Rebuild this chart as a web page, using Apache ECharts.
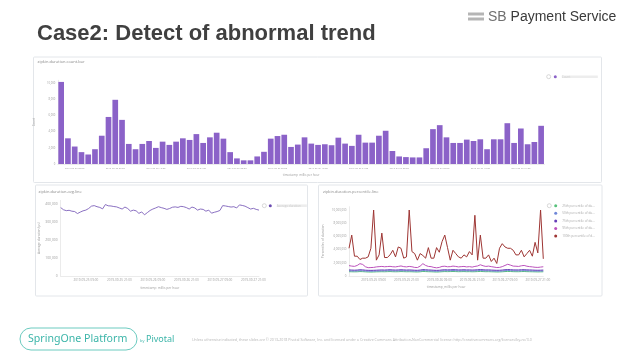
<!DOCTYPE html>
<html><head><meta charset="utf-8">
<script src="https://cdn.jsdelivr.net/npm/echarts@6/dist/echarts.min.js"></script>
<style>html,body{margin:0;padding:0;background:#fff}#c{width:638px;height:359px}</style>
</head><body><div id="c"></div>
<script>
// ---- data ----
const countValues = [
 10100,3160,2150,1460,1170,1820,3480,5790,7900,5430,2470,1820,
 2470,2830,1980,2750,2350,2750,3160,2960,3680,2590,3280,3850,
 3120,1460,690,450,450,930,1500,3120,3440,3600,2100,2390,
 3280,2510,2350,2430,2310,3240,2510,2230,3600,2630,2630,3480,
 4090,1600,930,850,810,810,1940,4290,4780,3280,2590,2590,
 3000,2830,3040,1820,3040,3040,5020,2590,4370,2430,2710,4700];
// average duration, thousands of microseconds
const avgK = [
 380,368,363,365,360,358,347,355,362,366,375,388,
 391,385,381,373,397,390,389,386,384,378,372,383,
 375,360,366,362,348,356,340,352,364,372,378,385,
 380,376,370,375,382,384,381,387,385,380,372,383,
 378,366,372,370,360,366,349,354,358,364,391,389,
 386,383,385,378,395,392,388,380,372,376,370,366];
// percentiles, millions of microseconds
const p25M = [
 0.65,0.64,0.63,0.64,0.67,0.66,0.63,0.61,0.60,0.61,0.63,0.64,
 0.65,0.64,0.66,0.67,0.65,0.64,0.65,0.67,0.66,0.64,0.65,0.64,
 0.62,0.61,0.64,0.69,0.67,0.65,0.64,0.62,0.60,0.62,0.65,0.67,
 0.66,0.67,0.68,0.67,0.65,0.66,0.67,0.65,0.66,0.64,0.65,0.67,
 0.69,0.67,0.65,0.66,0.64,0.63,0.61,0.62,0.64,0.67,0.69,0.68,
 0.66,0.65,0.65,0.67,0.68,0.66,0.65,0.64,0.63,0.62,0.63,0.64];
const p50M = [
 0.78,0.76,0.75,0.77,0.80,0.79,0.75,0.73,0.72,0.73,0.75,0.76,
 0.78,0.77,0.79,0.80,0.78,0.76,0.78,0.80,0.79,0.77,0.78,0.76,
 0.74,0.73,0.76,0.83,0.80,0.78,0.76,0.74,0.72,0.74,0.78,0.80,
 0.79,0.80,0.82,0.80,0.78,0.79,0.80,0.78,0.79,0.76,0.78,0.80,
 0.83,0.80,0.78,0.79,0.76,0.75,0.73,0.74,0.76,0.80,0.83,0.81,
 0.79,0.78,0.78,0.80,0.81,0.79,0.78,0.76,0.75,0.74,0.75,0.76];
const p75M = [
 0.92,0.90,0.88,0.90,0.95,0.93,0.88,0.86,0.85,0.86,0.88,0.90,
 0.92,0.90,0.93,0.95,0.92,0.90,0.92,0.95,0.93,0.90,0.92,0.90,
 0.87,0.86,0.90,0.98,0.95,0.92,0.90,0.87,0.85,0.87,0.92,0.95,
 0.93,0.94,0.96,0.95,0.92,0.93,0.95,0.92,0.93,0.90,0.92,0.95,
 0.98,0.95,0.92,0.93,0.90,0.88,0.86,0.87,0.90,0.95,0.98,0.96,
 0.93,0.92,0.92,0.95,0.96,0.93,0.92,0.90,0.88,0.87,0.88,0.90];
const p95M = [
 1.57,1.50,1.46,1.60,1.87,1.75,1.40,1.26,1.28,1.30,1.38,1.42,
 1.45,1.40,1.43,1.46,1.40,1.38,1.45,1.52,1.42,1.38,1.45,1.40,
 1.30,1.28,1.50,1.87,1.60,1.45,1.42,1.30,1.24,1.30,1.45,1.48,
 1.40,1.42,1.50,1.45,1.38,1.42,1.45,1.38,1.42,1.35,1.45,1.52,
 1.70,1.55,1.45,1.50,1.42,1.35,1.28,1.30,1.42,1.60,1.78,1.65,
 1.50,1.48,1.45,1.55,1.60,1.48,1.42,1.38,1.32,1.30,1.35,1.40];
const p100M = [
 4.2,6.2,3.0,3.0,2.5,2.7,2.7,2.9,4.2,10.0,2.4,3.2,
 6.5,2.8,2.8,3.2,3.9,2.9,4.4,4.2,2.7,2.9,10.0,3.7,
 3.4,2.4,3.4,3.1,2.7,4.3,2.7,2.7,4.3,3.6,5.2,6.2,
 4.3,2.4,3.9,3.4,2.9,2.7,3.2,2.9,3.7,3.2,9.2,2.4,
 6.2,2.7,2.7,3.2,2.2,2.7,1.9,4.2,4.9,4.4,4.2,4.2,
 3.9,3.2,3.2,3.9,2.9,3.4,3.9,3.0,5.1,3.5,10.0,2.6];
const pctNames = ['25th percentile of duration','50th percentile of duration','75th percentile of duration','95th percentile of duration','100th percentile of duration'];
const pctColors = ['#57c17b','#6f87d8','#663db8','#bc52bc','#9e3533'];

function hourCats(h0, n) {
  const out = [], p = x => String(x).padStart(2, '0');
  for (let i = 0; i < n; i++) {
    const d = new Date(Date.UTC(2019, 8, 25, h0 + i));
    out.push(d.getUTCFullYear() + '-' + p(d.getUTCMonth() + 1) + '-' + p(d.getUTCDate()) + ' ' + p(d.getUTCHours()) + ':00');
  }
  return out;
}
const countCats = hourCats(1, countValues.length);
const lineCats = hourCats(0, avgK.length);

const FONT = '"Open Sans", "Noto Sans", sans-serif';
const TICK = '#9c9c9c';
const AXL = { show: true, lineStyle: { color: '#dedede', width: 0.6 } };
const fmt = v => Math.round(v).toLocaleString('en-US');

const chart = echarts.init(document.getElementById('c'), null, { width: 638, height: 359 });

const panel = (x, y, w, h) => ({ type: 'rect', shape: { x, y, width: w, height: h, r: 1 }, style: { fill: '#fff', stroke: '#e3e6ea', lineWidth: 1 }, z: -10 });
const txt = (x, y, text, font, fill, extra) => ({ type: 'text', x, y, style: Object.assign({ text, font, fill, verticalAlign: 'middle' }, extra || {}) });
const ring = (x, y) => ({ type: 'circle', shape: { cx: x, cy: y, r: 2 }, style: { fill: '#fff', stroke: '#bdbdbd', lineWidth: 0.6 } });

chart.setOption({
  animation: false,
  backgroundColor: '#fff',
  textStyle: { fontFamily: FONT },
  graphic: [
    panel(33.5, 57, 568, 125.5),
    panel(35.5, 185, 272, 111),
    panel(318.5, 185, 283.5, 111),
    txt(37, 33.5, 'Case2: Detect of abnormal trend', 'bold 22px "Liberation Sans", Arial, sans-serif', '#404040'),
    { type: 'rect', shape: { x: 468, y: 12.5, width: 16, height: 3 }, style: { fill: '#b5b5b5' } },
    { type: 'rect', shape: { x: 468, y: 17.5, width: 16, height: 3 }, style: { fill: '#b5b5b5' } },
    { type: 'text', x: 488, y: 17.5, style: { text: '{a|SB }{b|Payment Service}', verticalAlign: 'middle',
      rich: { a: { font: '14px "Liberation Sans", Arial, sans-serif', fill: '#707070' }, b: { font: '14px "Liberation Sans", Arial, sans-serif', fill: '#3a3a3a' } } } },
    txt(37.5, 61.5, 'zipkin.duration.count.bar', '4px ' + FONT, '#8a8a8a'),
    txt(38.5, 191.5, 'zipkin.duration.avg.line', '4px ' + FONT, '#8a8a8a'),
    txt(323, 191.5, 'zipkin.duration.percentile.line', '4px ' + FONT, '#8a8a8a'),
    ring(548.7, 76.7),
    ring(264.3, 205.7),
    ring(549.3, 205.7),
    { type: 'rect', shape: { x: 20, y: 328, width: 117, height: 22, r: 11 }, style: { fill: 'none', stroke: '#6ccbc0', lineWidth: 1 } },
    txt(28, 339, 'SpringOne Platform', '10.6px "Noto Sans", "Open Sans", sans-serif', '#3cb5a9'),
    txt(140, 340.5, 'by', '4px ' + FONT, '#3cb5a9'),
    txt(146, 339.5, 'Pivotal', '9px "Noto Sans", "Open Sans", sans-serif', '#3cb5a9'),
    txt(192, 339.5, 'Unless otherwise indicated, these slides are \u00a9 2013-2018 Pivotal Software, Inc. and licensed under a Creative Commons Attribution-NonCommercial license: http://creativecommons.org/licenses/by-nc/3.0', '3.6px ' + FONT, '#b5b5b5')
  ],
  legend: [
    { data: ['Count'], left: 553.8, top: 75.2, itemWidth: 3, itemHeight: 3, icon: 'circle', padding: 0,
      textStyle: { fontSize: 3, color: '#cfcfcf', backgroundColor: '#ededed', width: 36, height: 2.6, lineHeight: 2.6 } },
    { data: ['Average duration'], left: 268.8, top: 204.2, itemWidth: 3, itemHeight: 3, icon: 'circle', padding: 0,
      textStyle: { fontSize: 3, color: '#cfcfcf', backgroundColor: '#ededed', width: 30, height: 2.6, lineHeight: 2.6 } },
    { data: pctNames, left: 554.2, top: 204.2, orient: 'vertical', itemGap: 4.6, itemWidth: 3, itemHeight: 3, icon: 'circle', padding: 0,
      formatter: n => n.slice(0, 21) + '...', textStyle: { fontSize: 3.1, color: '#a8a8a8' } }
  ],
  grid: [
    { left: 57.8, right: 93.5, top: 80.3, bottom: 195 },
    { left: 60.7, right: 379, top: 200.4, bottom: 83 },
    { left: 349, right: 94.7, top: 206.7, bottom: 83 }
  ],
  xAxis: [
    { gridIndex: 0, type: 'category', data: countCats, axisTick: { show: false }, axisLine: AXL,
      axisLabel: { interval: i => i % 6 === 2, fontSize: 2.4, color: TICK, margin: 3.5 },
      name: 'timestamp_millis per hour', nameLocation: 'middle', nameGap: 9.5, nameTextStyle: { fontSize: 3, color: TICK } },
    { gridIndex: 1, type: 'category', data: lineCats, boundaryGap: false, axisTick: { show: false }, axisLine: AXL,
      axisLabel: { interval: i => i % 12 === 9, fontSize: 3.1, color: TICK, margin: 3 },
      name: 'timestamp_millis per hour', nameLocation: 'middle', nameGap: 10.5, nameTextStyle: { fontSize: 3.2, color: TICK } },
    { gridIndex: 2, type: 'category', data: lineCats, boundaryGap: false, axisTick: { show: false }, axisLine: AXL,
      axisLabel: { interval: i => i % 12 === 9, fontSize: 3.1, color: TICK, margin: 3 },
      name: 'timestamp_millis per hour', nameLocation: 'middle', nameGap: 9.5, nameTextStyle: { fontSize: 3.2, color: TICK } }
  ],
  yAxis: [
    { gridIndex: 0, type: 'value', min: 0, max: 10300, interval: 2000, splitLine: { show: false }, axisLine: AXL, axisTick: { show: false },
      axisLabel: { fontSize: 2.7, color: TICK, margin: 2.5, showMaxLabel: false, formatter: fmt },
      name: 'Count', nameLocation: 'middle', nameRotate: 90, nameGap: 17, nameTextStyle: { fontSize: 3, color: TICK } },
    { gridIndex: 1, type: 'value', min: 0, max: 420, interval: 100, splitLine: { show: false }, axisLine: AXL, axisTick: { show: false },
      axisLabel: { fontSize: 3.4, color: TICK, margin: 3, showMaxLabel: false, formatter: v => fmt(v * 1000) },
      name: 'Average duration (\u03bcs)', nameLocation: 'middle', nameRotate: 90, nameGap: 20, nameTextStyle: { fontSize: 3.2, color: TICK } },
    { gridIndex: 2, type: 'value', min: 0, max: 10.5, interval: 2, splitLine: { show: false }, axisLine: AXL, axisTick: { show: false },
      axisLabel: { fontSize: 2.9, color: TICK, margin: 2.5, showMaxLabel: false, formatter: v => fmt(v * 1e6) },
      name: 'Percentiles of duration', nameLocation: 'middle', nameRotate: 90, nameGap: 24, nameTextStyle: { fontSize: 3.2, color: TICK } }
  ],
  series: [
    { name: 'Count', type: 'bar', xAxisIndex: 0, yAxisIndex: 0, data: countValues, barCategoryGap: '16%', itemStyle: { color: '#8b62c8' } },
    { name: 'Average duration', type: 'line', xAxisIndex: 1, yAxisIndex: 1, data: avgK, symbol: 'none', lineStyle: { color: '#7d60ba', width: 0.9 }, itemStyle: { color: '#6a4bb0' } },
  ].concat([p25M, p50M, p75M, p95M, p100M].map((d, i) => ({
    name: pctNames[i], type: 'line', xAxisIndex: 2, yAxisIndex: 2, data: d, symbol: 'none',
    lineStyle: { color: pctColors[i], width: 1 }, itemStyle: { color: pctColors[i] }
  })))
});
</script>
</body></html>
